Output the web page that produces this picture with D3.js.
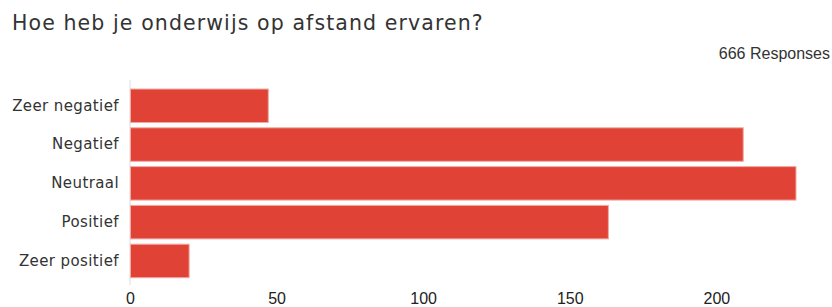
<!DOCTYPE html>
<html>
<head>
<meta charset="utf-8">
<script src="https://cdn.jsdelivr.net/npm/d3@7"></script>
<style>
  body { margin: 0; background: #fff; }
</style>
</head>
<body>
<script>
var categories = ['Zeer negatief', 'Negatief', 'Neutraal', 'Positief', 'Zeer positief']
var counts = [47, 209, 227, 163, 20]
var tickValues = [0, 50, 100, 150, 200]
var title = 'Hoe heb je onderwijs op afstand ervaren?'
var total = '666 Responses'

var width = 832
var height = 307

var x = d3.scaleLinear().domain([0, 227]).range([130, 795.5])
var y = d3.scaleBand().domain(categories).range([83.7, 283]).padding(0.137)

var svg = d3.select('body').append('svg')
  .attr('width', width)
  .attr('height', height)

svg.append('text')
  .attr('x', 12)
  .attr('y', 30)
  .style('font-family', 'DejaVu Sans')
  .style('font-size', '20.5px')
  .style('letter-spacing', '1.1px')
  .style('fill', '#333')
  .text(title)

svg.append('text')
  .attr('x', 830)
  .attr('y', 59)
  .attr('text-anchor', 'end')
  .style('font-family', 'Liberation Sans')
  .style('font-size', '16px')
  .style('fill', '#333')
  .text(total)

// zero line
svg.append('line')
  .attr('x1', x(0)).attr('x2', x(0))
  .attr('y1', 80).attr('y2', 285)
  .style('stroke', '#ddd')

svg.selectAll('.bar')
  .data(counts)
  .enter().append('rect')
  .attr('class', 'bar')
  .attr('x', x(0) + 0.5)
  .attr('y', (d, i) => y(categories[i]))
  .attr('width', d => x(d) - x(0))
  .attr('height', y.bandwidth())
  .style('fill', '#e04236')
  .style('stroke', '#f2a9a3')
  .style('stroke-width', 1)

var yAxis = svg.append('g')
  .attr('transform', 'translate(' + x(0) + ',0)')
  .call(d3.axisLeft(y).tickSize(0).tickPadding(11))
yAxis.select('.domain').remove()
yAxis.selectAll('text')
  .style('font-family', 'DejaVu Sans')
  .style('font-size', '15px')
  .style('letter-spacing', '0.4px')
  .style('fill', '#333')

var xAxis = svg.append('g')
  .attr('transform', 'translate(0,292.5)')
  .call(d3.axisBottom(x).tickValues(tickValues).tickSize(0).tickPadding(0))
xAxis.select('.domain').remove()
xAxis.selectAll('text')
  .style('font-family', 'Liberation Sans')
  .style('font-size', '16px')
  .style('fill', '#222')
</script>
</body>
</html>
